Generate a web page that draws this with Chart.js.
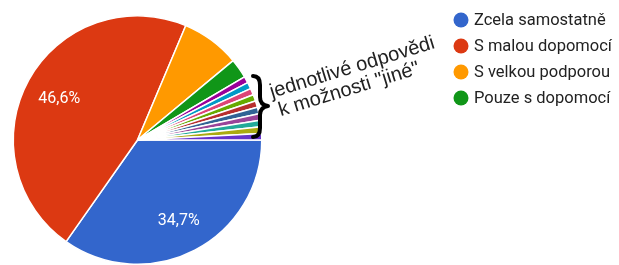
<!DOCTYPE html>
<html>
<head>
<meta charset="utf-8">
<script src="https://cdn.jsdelivr.net/npm/chart.js@4"></script>
<style>
  html, body { margin: 0; padding: 0; background: #fff; }
  canvas { display: block; }
</style>
</head>
<body>
<canvas id="myChart" width="619" height="265"></canvas>
<script>
// answers (first 4 are shown in the legend, the rest are single "jiné" answers)
var labels = ["Zcela samostatně", "S malou dopomocí", "S velkou podporou", "Pouze s dopomocí",
  "jiné 1", "jiné 2", "jiné 3", "jiné 4", "jiné 5", "jiné 6", "jiné 7", "jiné 8", "jiné 9", "jiné 10"];
var counts = [41, 55, 9, 3, 1, 1, 1, 1, 1, 1, 1, 1, 1, 1];
var colors = ["#3366cc", "#dc3912", "#ff9900", "#109618", "#990099", "#0099c6", "#dd4477",
  "#66aa00", "#b82e2e", "#316395", "#994499", "#22aa99", "#aaaa11", "#6633cc"];
var legendCount = 4;
var noteLines = ["jednotlivé odpovědi", "k možnosti \"jiné\""];

const font = "Roboto, Arial, sans-serif";

// percent labels inside the big slices
const pctLabels = {
  id: 'pctLabels',
  afterDatasetsDraw(chart) {
    const ctx = chart.ctx;
    const meta = chart.getDatasetMeta(0);
    const total = counts.reduce((a, b) => a + b, 0);
    ctx.save();
    ctx.fillStyle = "#ffffff";
    ctx.font = "16px " + font;
    ctx.textAlign = "center";
    ctx.textBaseline = "middle";
    meta.data.forEach((arc, i) => {
      const share = counts[i] / total;
      if (share < 0.2) return;
      const p = arc.getProps(['x', 'y', 'startAngle', 'endAngle', 'outerRadius'], true);
      const mid = (p.startAngle + p.endAngle) / 2;
      const r = p.outerRadius * 0.72;
      const txt = (share * 100).toFixed(1).replace(".", ",") + "%";
      ctx.fillText(txt, p.x + Math.cos(mid) * r, p.y + Math.sin(mid) * r + 2);
    });
    ctx.restore();
  }
};

// legend (first 4 items only) + the brace note
const extras = {
  id: 'extras',
  afterDraw(chart) {
    const ctx = chart.ctx;
    ctx.save();
    // legend
    ctx.font = "16.5px " + font;
    ctx.textBaseline = "middle";
    for (let i = 0; i < legendCount; i++) {
      const y = 20 + i * 26;
      ctx.fillStyle = colors[i];
      ctx.beginPath();
      ctx.arc(461, y, 7.5, 0, Math.PI * 2);
      ctx.fill();
      ctx.fillStyle = "#222";
      ctx.fillText(labels[i], 474, y + 1);
    }
    // brace
    ctx.strokeStyle = "#000";
    ctx.lineWidth = 4;
    ctx.lineCap = "round";
    ctx.lineJoin = "round";
    ctx.beginPath();
    ctx.moveTo(253, 76);
    ctx.quadraticCurveTo(260, 76, 260, 85);
    ctx.lineTo(260, 97);
    ctx.quadraticCurveTo(260, 105, 268, 106);
    ctx.quadraticCurveTo(260, 107, 260, 115);
    ctx.lineTo(260, 128);
    ctx.quadraticCurveTo(260, 137, 253, 137);
    ctx.stroke();
    // note text
    ctx.fillStyle = "#222";
    ctx.font = "20px 'Liberation Sans', Arial, sans-serif";
    ctx.textBaseline = "alphabetic";
    ctx.translate(272, 98);
    ctx.rotate(-17 * Math.PI / 180);
    ctx.fillText(noteLines[0], 0, 0);
    ctx.fillText(noteLines[1], 3, 20);
    ctx.restore();
  }
};

new Chart(document.getElementById("myChart"), {
  type: 'pie',
  data: {
    labels: labels,
    datasets: [{
      data: counts,
      backgroundColor: colors,
      borderColor: "#ffffff",
      borderWidth: 1.5
    }]
  },
  options: {
    responsive: false,
    animation: false,
    rotation: 90,
    layout: { padding: { left: 12, right: 356, top: 15, bottom: 0 } },
    plugins: {
      legend: { display: false },
      tooltip: { enabled: false }
    }
  },
  plugins: [pctLabels, extras]
});
</script>
</body>
</html>
